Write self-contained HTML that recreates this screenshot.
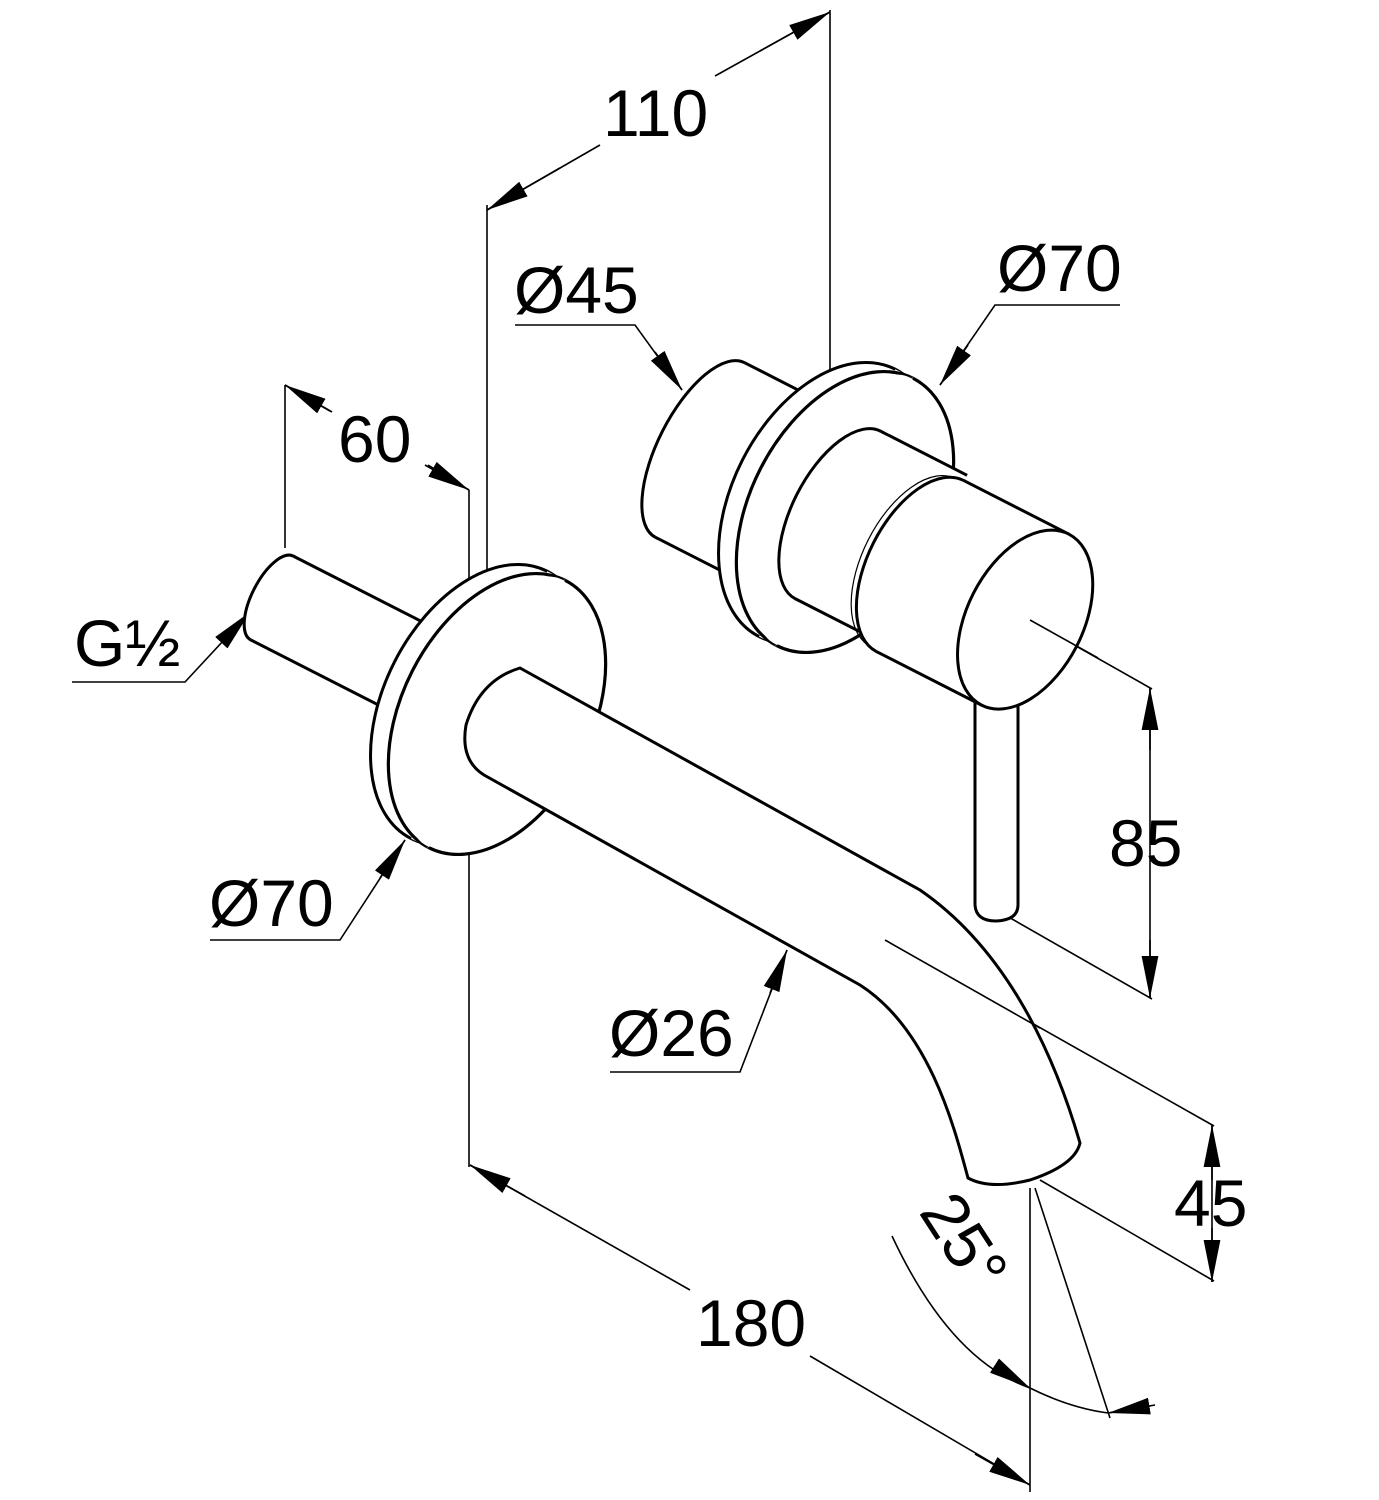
<!DOCTYPE html>
<html><head><meta charset="utf-8"><style>
html,body{margin:0;padding:0;background:#fff;}
svg{display:block;}
text{font-family:"Liberation Sans",Arial,sans-serif;font-size:66px;fill:#000;}
</style></head><body>
<svg width="1379" height="1500" viewBox="0 0 1379 1500" xmlns="http://www.w3.org/2000/svg">
<defs>
<marker id="a" viewBox="0 0 10 4" refX="10" refY="2" markerUnits="userSpaceOnUse" markerWidth="42" markerHeight="17" orient="auto">
<path d="M0,0 L10,2 L0,4 z" fill="#000"/></marker>
</defs>

<g stroke="#000" stroke-width="1.6" fill="none">
<line x1="830" y1="10" x2="830" y2="378"/>
<line x1="487" y1="205" x2="487" y2="580"/>
<line x1="285" y1="385" x2="285" y2="548"/>
<line x1="469" y1="490" x2="469" y2="657"/>
<line x1="469" y1="837" x2="469" y2="1167"/>
<line x1="487" y1="210" x2="600" y2="145"/>
<line x1="715" y1="76" x2="830" y2="12"/>
<line x1="285" y1="385" x2="332" y2="412"/>
<line x1="428" y1="465" x2="469" y2="490"/>
<line x1="470" y1="1165" x2="690" y2="1290"/>
<line x1="810" y1="1356" x2="1030" y2="1485"/>
<line x1="1150" y1="688" x2="1150" y2="998"/>
<line x1="1212" y1="1125" x2="1212" y2="1282"/>
<line x1="1030" y1="620" x2="1152" y2="689"/>
<line x1="1005" y1="915" x2="1152" y2="999"/>
<line x1="885" y1="940" x2="1214" y2="1126"/>
<line x1="1040" y1="1180" x2="1214" y2="1281"/>
<line x1="1030" y1="1188" x2="1030" y2="1492"/>
<line x1="1035" y1="1188" x2="1110" y2="1418"/>
<path d="M892,1236 Q950,1360 1030,1388 Q1070,1408 1108,1413"/>
<line x1="1108" y1="1413" x2="1155" y2="1405"/>
<polyline points="515,325 635,325 682,390"/>
<polyline points="1120,305 995,305 940,385"/>
<polyline points="72,682 185,682 250,612"/>
<polyline points="210,940 340,940 405,840"/>
<polyline points="610,1072 740,1072 787,950"/>
</g>
<g stroke="#000" stroke-width="1.6" marker-end="url(#a)">
<line x1="560" y1="168" x2="487" y2="210"/>
<line x1="760" y1="51" x2="830" y2="12"/>
<line x1="655" y1="352" x2="682" y2="390"/>
<line x1="968" y1="345" x2="940" y2="385"/>
<line x1="222" y1="642" x2="250" y2="612"/>
<line x1="380" y1="878" x2="405" y2="840"/>
<line x1="770" y1="993" x2="787" y2="950"/>
<line x1="330" y1="411" x2="285" y2="385"/>
<line x1="425" y1="465" x2="469" y2="490"/>
<line x1="1150" y1="750" x2="1150" y2="688"/>
<line x1="1150" y1="940" x2="1150" y2="998"/>
<line x1="1212" y1="1180" x2="1212" y2="1125"/>
<line x1="1212" y1="1228" x2="1212" y2="1282"/>
<line x1="525" y1="1196" x2="470" y2="1165"/>
<line x1="975" y1="1454" x2="1030" y2="1485"/>
<line x1="995" y1="1366" x2="1030" y2="1388"/>
<line x1="1150" y1="1406" x2="1108" y2="1413"/>
</g>

<g stroke="#000" stroke-width="3" fill="#fff">
 <g transform="translate(700,450) rotate(27)">
  <ellipse cx="0" cy="0" rx="42" ry="98"/>
  <rect x="0" y="-98" width="90" height="196" stroke="none"/>
  <line x1="0" y1="-98" x2="90" y2="-98"/><line x1="0" y1="98" x2="90" y2="98"/>
 </g>
 <g transform="translate(845,512) rotate(27)">
  <ellipse cx="-20" cy="0" rx="95" ry="150"/>
  <rect x="-20" y="-150" width="20" height="300" stroke="none"/>
  <ellipse cx="0" cy="0" rx="95" ry="150" stroke-width="3.2"/>
  <path d="M0,149 A95,150 0 0 1 0,-149" fill="none" stroke="#fff" stroke-width="4"/>
  <path d="M0,150 A95,150 0 0 1 0,-150" fill="none" stroke-width="1.2"/>
 </g>
 <path d="M975,690 L975,905 Q976,921 996,921 Q1018,920 1018,905 L1018,690 Z"/>
 <g transform="translate(838,515) rotate(27)">
  <ellipse cx="0" cy="0" rx="46" ry="94"/>
  <rect x="0" y="-94" width="97" height="188" stroke="none"/>
  <line x1="0" y1="-94" x2="97" y2="-94"/><line x1="0" y1="94" x2="97" y2="94"/>
 </g>
 <g transform="translate(920,566) rotate(27)">
  <ellipse cx="-8" cy="0" rx="50" ry="94" stroke-width="1.2" fill="none"/>
  <ellipse cx="0" cy="0" rx="52" ry="96"/>
  <rect x="0" y="-96" width="118" height="192" stroke="none"/>
  <line x1="0" y1="-96" x2="118" y2="-96"/><line x1="0" y1="96" x2="118" y2="96"/>
  <ellipse cx="118" cy="0" rx="58" ry="96"/>
 </g>
 <line x1="1030" y1="620" x2="1098" y2="658" stroke-width="1.6"/>
</g>

<g stroke="#000" stroke-width="3" fill="#fff">
 <g transform="translate(272,598) rotate(27)">
  <ellipse cx="0" cy="0" rx="20" ry="47"/>
  <rect x="0" y="-47" width="170" height="94" stroke="none"/>
  <line x1="0" y1="-47" x2="170" y2="-47"/><line x1="0" y1="47" x2="170" y2="47"/>
 </g>
 <g transform="translate(497,714) rotate(27)">
  <ellipse cx="-20" cy="0" rx="95" ry="150"/>
  <rect x="-20" y="-150" width="20" height="300" stroke="none"/>
  <ellipse cx="0" cy="0" rx="95" ry="150" stroke-width="3.2"/>
  <path d="M0,149 A95,150 0 0 1 0,-149" fill="none" stroke="#fff" stroke-width="4"/>
  <path d="M0,150 A95,150 0 0 1 0,-150" fill="none" stroke-width="1.2"/>
 </g>
 <path d="M520,668 L920,890 C1000,945 1050,1040 1080,1143 Q1075,1165 1030,1180 Q990,1190 968,1178 C955,1130 930,1030 860,985 L484,775 Q460,760 466,725 Q480,680 520,668 Z"/>
 <line x1="885" y1="940" x2="1040" y2="1028" stroke-width="1.6"/>
</g>

<text x="603" y="136">110</text>
<text x="514" y="313">Ø45</text>
<text x="997" y="291">Ø70</text>
<text x="338" y="462">60</text>
<text x="74" y="666">G½</text>
<text x="209" y="926">Ø70</text>
<text x="609" y="1056">Ø26</text>
<text x="1109" y="866">85</text>
<text x="1174" y="1226">45</text>
<text x="696" y="1346">180</text>
<text x="0" y="0" transform="translate(918,1212) rotate(57)">25°</text>
</svg>
</body></html>
